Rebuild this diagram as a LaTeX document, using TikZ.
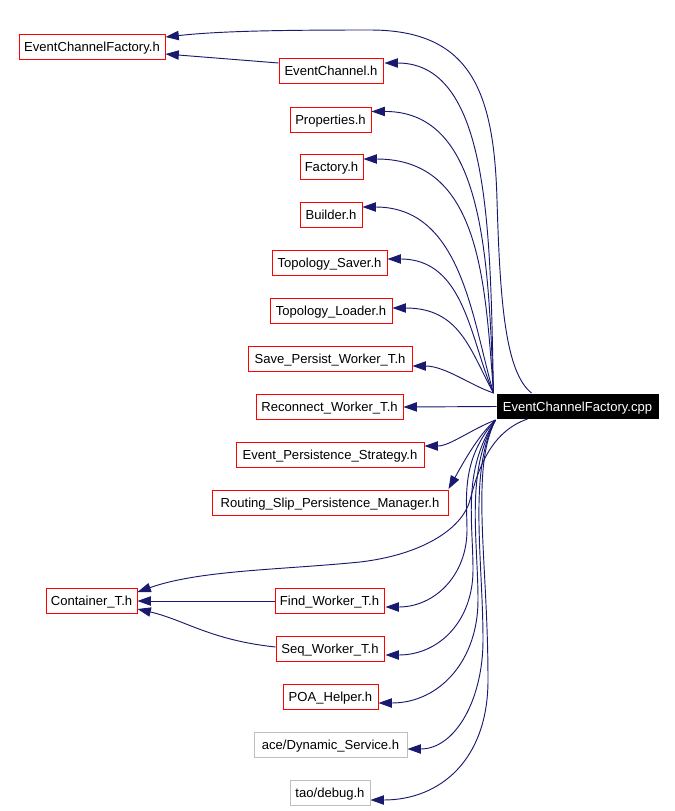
\documentclass[tikz,border=0pt]{standalone}
\usepackage{fontspec}
\setmainfont{Liberation Sans}
\usetikzlibrary{arrows.meta,calc}
\definecolor{edgeblue}{HTML}{191970}
\definecolor{boxgray}{HTML}{BFBFBF}
\begin{document}
\begin{tikzpicture}[x=0.75pt,y=-0.75pt,
  hdr/.style={draw=red, fill=white, line width=0.75pt, inner sep=0pt,
    minimum height=18.75pt, text height=6.95pt, text depth=0pt,
    font=\fontsize{9.8pt}{11pt}\selectfont},
  ext/.style={hdr, draw=boxgray},
  src/.style={hdr, draw=black, fill=black, text=white, minimum height=18pt},
  dep/.style={draw=edgeblue, line width=0.7pt, -{Triangle[length=10pt,width=7pt]}}]
\useasboundingbox (0,0) rectangle (675,811);

\node[hdr, minimum width=109.5pt] (ecfh) at (92,47) {EventChannelFactory.h};
\node[hdr, minimum width=78pt] (ec) at (331,71) {EventChannel.h};
\node[hdr, minimum width=60.75pt] (prop) at (330.5,119.5) {Properties.h};
\node[hdr, minimum width=47.25pt] (fact) at (331.5,167) {Factory.h};
\node[hdr, minimum width=46.5pt] (build) at (331,215) {Builder.h};
\node[hdr, minimum width=86.25pt] (tsav) at (329.5,263) {Topology\_Saver.h};
\node[hdr, minimum width=91.5pt] (tload) at (331,311) {Topology\_Loader.h};
\node[hdr, minimum width=123pt] (spw) at (330,359) {Save\_Persist\_Worker\_T.h};
\node[hdr, minimum width=110.25pt] (rw) at (329.5,407) {Reconnect\_Worker\_T.h};
\node[hdr, minimum width=141pt] (eps) at (330,455) {Event\_Persistence\_Strategy.h};
\node[hdr, minimum width=177pt] (rs) at (330,503) {Routing\_Slip\_Persistence\_Manager.h};
\node[hdr, minimum width=68.25pt] (cont) at (91.5,601) {Container\_T.h};
\node[hdr, minimum width=81.75pt] (find) at (329.5,601) {Find\_Worker\_T.h};
\node[hdr, minimum width=81pt] (seq) at (330,649) {Seq\_Worker\_T.h};
\node[hdr, minimum width=71.25pt] (poa) at (330.5,697) {POA\_Helper.h};
\node[ext, minimum width=114.75pt] (dyn) at (330.5,745) {ace/Dynamic\_Service.h};
\node[ext, minimum width=60pt] (dbg) at (330,793) {tao/debug.h};
\node[src, minimum width=120.75pt] (cpp) at (577.5,406.5) {EventChannelFactory.cpp};

\coordinate (S) at ($(cpp.north west)+(-3,-1)$);
\coordinate (S2) at ($(cpp.south west)+(-1,1)$);

% upper dependencies
\draw[dep] ($(cpp.north west)+(35,-1)$) .. controls (505,372) and (500,300) .. (497,200)
  .. controls (494,90) and (470,30) .. (370,30)
  .. controls (280,30) and (220,31) .. ($(ecfh.east)+(0,-10)$);
\draw[dep] ($(ec.west)+(0,-8)$) -- ($(ecfh.east)+(0,7)$);
\draw[dep] (S) .. controls (490,240) and (492,63) .. ($(ec.east)+(1,-8)$);
\draw[dep] (S) .. controls (488,260) and (485,111) .. ($(prop.east)+(0,-8)$);
\draw[dep] (S) .. controls (485,280) and (480,159) .. ($(fact.east)+(0,-8)$);
\draw[dep] (S) .. controls (472,320) and (462,207) .. ($(build.east)+(0,-8)$);
\draw[dep] (S) .. controls (470,340) and (465,259) .. ($(tsav.east)+(0,-4)$);
\draw[dep] (S) .. controls (470,350) and (460,308) .. ($(tload.east)+(0,-3)$);
\draw[dep] (S) .. controls (470,385) and (445,366) .. ($(spw.east)+(0,7)$);
\draw[dep] (cpp.west) -- (rw.east);

% lower dependencies
\draw[dep] (S2) .. controls (470,430) and (450,446) .. ($(eps.east)+(0,-9)$);
\draw[dep] (S2) .. controls (478,435) and (462,465) .. ($(rs.north east)+(0,-1)$);
\draw[dep] ($(cpp.south west)+(31,0)$) .. controls (490,432) and (478,470) .. (470,500)
  .. controls (462,530) and (420,555) .. (360,562)
  .. controls (280,570) and (200,570) .. ($(cont.east)+(0,-9)$);
\draw[dep] (S2) .. controls (460,460) and (467,500) .. (467,530)
  .. controls (467,575) and (435,607) .. ($(find.east)+(1,6)$);
\draw[dep] (S2) .. controls (462,470) and (473,520) .. (473,570)
  .. controls (473,620) and (440,655) .. ($(seq.east)+(1,6)$);
\draw[dep] (S2) .. controls (465,470) and (478,540) .. (478,600)
  .. controls (478,660) and (440,703) .. ($(poa.east)+(0,6)$);
\draw[dep] (S2) .. controls (468,470) and (483,560) .. (483,640)
  .. controls (483,700) and (455,749) .. ($(dyn.east)+(0,4)$);
\draw[dep] (S2) .. controls (470,470) and (488,560) .. (488,680)
  .. controls (488,760) and (440,800) .. ($(dbg.east)+(0,7)$);

% Container_T.h users
\draw[dep] (find.west) -- (cont.east);
\draw[dep] ($(seq.west)+(0,-2)$) .. controls (210,640) and (185,620) .. ($(cont.east)+(0,8)$);
\end{tikzpicture}
\end{document}
